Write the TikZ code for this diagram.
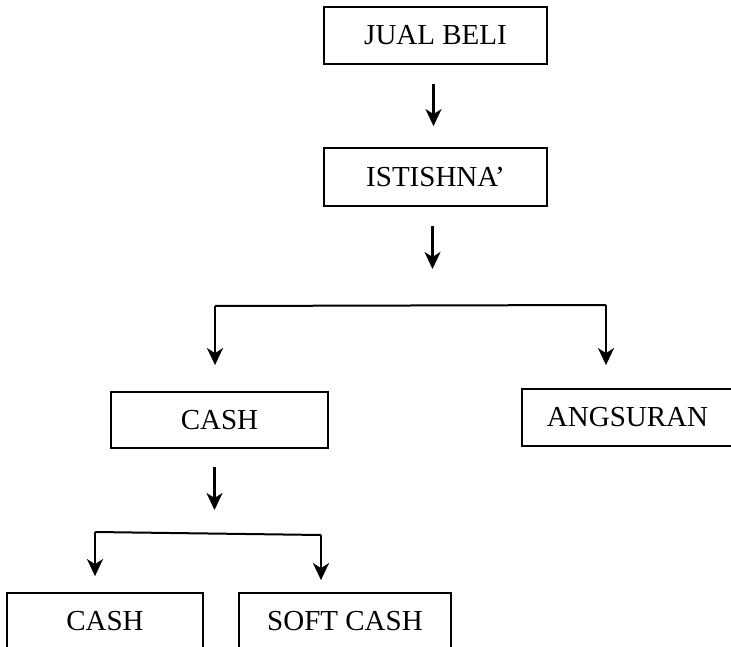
\documentclass[tikz,border=0pt]{standalone}
\usepackage{fontspec}
\setmainfont{Liberation Serif}
\usetikzlibrary{arrows.meta}
\tikzset{
  kotak/.style={draw,line width=1.8pt,inner sep=0,minimum height=57pt,
    font=\fontsize{29}{34}\selectfont},
  panah/.style={line width=2.4pt,-{Stealth[length=17pt,width=16pt,inset=5pt]}},
  garis/.style={line width=2pt}
}

\begin{document}
\begin{tikzpicture}[x=1pt,y=1pt]
\useasboundingbox (0,0) rectangle (731,-647);
\clip (0,0) rectangle (731,-647);
% kotak
\node[kotak,minimum width=223pt] (jual) at (435.5,-35.5) {JUAL BELI};
\node[kotak,minimum width=223pt,minimum height=58pt] (istishna) at (435.5,-177) {ISTISHNA’};
\node[kotak,minimum width=217pt,minimum height=56pt] (cash) at (219.5,-420) {CASH};
\node[kotak,minimum width=211pt] (angsuran) at (627.5,-417.5) {ANGSURAN};
\node[kotak,minimum width=196pt] (cashb) at (105,-621.5) {CASH};
\node[kotak,minimum width=212pt] (soft) at (345,-621.5) {SOFT CASH};
% cabang
\coordinate (c1) at (215,-306);
\coordinate (c2) at (606,-305);
\coordinate (c3) at (95,-532);
\coordinate (c4) at (321,-535);
% garis
\draw[panah,shorten <=19pt,shorten >=21pt] ([xshift=-2pt]jual.south) -- ([xshift=-2pt]istishna.north);
\draw[panah,shorten <=19pt,shorten >=37pt] ([xshift=-3pt]istishna.south) -- ([xshift=-3pt]istishna.south |- c1);
\draw[garis] (c1) -- (c2);
\draw[panah,shorten >=26pt] (c1) -- (c1 |- cash.north);
\draw[panah,shorten >=23pt] (c2) -- (c2 |- angsuran.north);
\draw[panah,shorten <=18pt,shorten >=22pt] ([xshift=-5pt]cash.south) -- ([xshift=-5pt]cash.south |- c3);
\draw[garis] (c3) -- (c4);
\draw[panah,shorten >=16pt] (c3) -- (c3 |- cashb.north);
\draw[panah,shorten >=12pt] (c4) -- (c4 |- soft.north);
\end{tikzpicture}
\end{document}
